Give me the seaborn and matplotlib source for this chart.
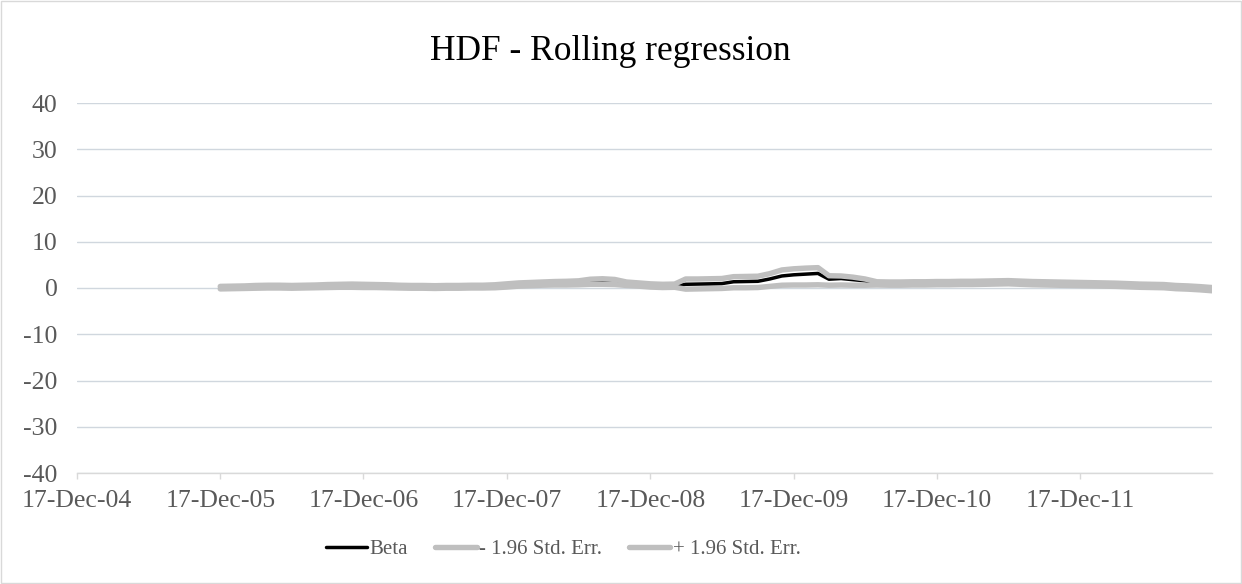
import numpy as np
import pandas as pd
import matplotlib
matplotlib.use("Agg")
import matplotlib.pyplot as plt
import matplotlib.dates as mdates
from matplotlib.patches import Rectangle
import seaborn as sns

# ---- data (monthly) ----
dates = pd.date_range(start="2005-12-17", periods=84, freq=pd.DateOffset(months=1))

beta = [0.10, 0.15, 0.20, 0.25, 0.30, 0.30, 0.25, 0.30, 0.35, 0.45, 0.50, 0.50,
        0.45, 0.40, 0.35, 0.30, 0.25, 0.25, 0.20, 0.25, 0.25, 0.30, 0.30, 0.35,
        0.55, 0.75, 0.85, 0.95, 1.00, 1.05, 1.10, 1.30, 1.35, 1.25, 0.90, 0.75,
        0.55, 0.45, 0.50, 0.80, 0.85, 0.90, 0.95, 1.35, 1.40, 1.45, 1.95, 2.60,
        2.85, 3.00, 3.15, 1.90, 2.05, 1.80, 1.55, 1.00, 0.95, 0.95, 1.00, 1.00,
        1.05, 1.05, 1.10, 1.10, 1.15, 1.20, 1.25, 1.15, 1.05, 1.00, 0.95, 0.90,
        0.85, 0.80, 0.75, 0.70, 0.60, 0.50, 0.45, 0.40, 0.20, 0.10, -0.05, -0.25]

lower = [-0.20, -0.15, -0.10, -0.05, 0.00, 0.00, -0.05, 0.00, 0.05, 0.10, 0.15, 0.15,
         0.10, 0.10, 0.05, 0.00, -0.05, -0.05, -0.10, -0.05, -0.05, 0.00, 0.00, 0.05,
         0.20, 0.40, 0.50, 0.60, 0.65, 0.65, 0.70, 0.80, 0.80, 0.75, 0.55, 0.40,
         0.20, 0.10, 0.15, -0.25, -0.20, -0.15, -0.10, 0.05, 0.05, 0.10, 0.35, 0.60,
         0.65, 0.65, 0.70, 0.60, 0.65, 0.60, 0.60, 0.65, 0.60, 0.60, 0.65, 0.65,
         0.70, 0.70, 0.75, 0.75, 0.80, 0.85, 0.90, 0.80, 0.70, 0.65, 0.60, 0.55,
         0.50, 0.45, 0.40, 0.35, 0.25, 0.15, 0.10, 0.05, -0.15, -0.25, -0.40, -0.60]

upper = [0.35, 0.40, 0.45, 0.55, 0.60, 0.60, 0.55, 0.60, 0.65, 0.75, 0.80, 0.85,
         0.80, 0.75, 0.70, 0.60, 0.55, 0.55, 0.50, 0.55, 0.55, 0.60, 0.60, 0.70,
         0.90, 1.10, 1.20, 1.30, 1.40, 1.45, 1.55, 1.90, 2.00, 1.85, 1.30, 1.10,
         0.90, 0.80, 0.85, 1.95, 1.95, 2.00, 2.05, 2.45, 2.50, 2.55, 3.10, 3.90,
         4.15, 4.30, 4.40, 2.65, 2.60, 2.35, 1.95, 1.35, 1.30, 1.30, 1.35, 1.35,
         1.40, 1.40, 1.45, 1.45, 1.50, 1.55, 1.60, 1.50, 1.40, 1.35, 1.30, 1.25,
         1.20, 1.15, 1.10, 1.05, 0.95, 0.85, 0.80, 0.75, 0.55, 0.45, 0.30, 0.10]

series_names = ["Beta", "- 1.96 Std. Err.", "+ 1.96 Std. Err."]
y_ticks = [-40, -30, -20, -10, 0, 10, 20, 30, 40]
x_tick_dates = pd.to_datetime(["2004-12-17", "2005-12-17", "2006-12-17", "2007-12-17",
                               "2008-12-17", "2009-12-17", "2010-12-17", "2011-12-17"])

df = pd.DataFrame({"date": dates, "beta": beta, "lower": lower, "upper": upper})

# ---- style ----
sns.set_theme(style="white")
plt.rcParams["font.family"] = ["Liberation Serif", "DejaVu Serif"]
plt.rcParams["axes.unicode_minus"] = False

fig = plt.figure(figsize=(12.42, 5.84), dpi=100)
ax = fig.add_axes([77 / 1242, 1 - 473 / 584, (1212 - 77) / 1242, (473 - 103) / 584])

grey = "#BFBFBF"
sns.lineplot(data=df, x="date", y="beta", ax=ax, color="black", linewidth=2.5,
             label=series_names[0], zorder=3)
sns.lineplot(data=df, x="date", y="lower", ax=ax, color=grey, linewidth=3.9,
             label=series_names[1], zorder=4, solid_capstyle="round")
sns.lineplot(data=df, x="date", y="upper", ax=ax, color=grey, linewidth=3.9,
             label=series_names[2], zorder=5, solid_capstyle="round")

ax.set_ylim(-40, 40)
ax.set_yticks(y_ticks)
ax.set_xlim(pd.Timestamp("2004-12-17"), pd.Timestamp("2012-11-17"))
ax.set_xticks(x_tick_dates)
ax.xaxis.set_major_formatter(mdates.DateFormatter("%d-%b-%y"))
ax.set_xlabel("")
ax.set_ylabel("")

ax.grid(axis="y", color="#D0D7DE", linewidth=1.0)
ax.grid(axis="x", visible=False)
for s in ["top", "right", "left"]:
    ax.spines[s].set_visible(False)
ax.spines["bottom"].set_color("#D9D9D9")
ax.spines["bottom"].set_linewidth(1.0)
ax.spines["bottom"].set_zorder(6)

ax.tick_params(axis="x", which="major", bottom=True, length=4, width=1,
               color="#D9D9D9", labelsize=18.5, labelcolor="#595959", pad=8)
ax.tick_params(axis="y", length=0, labelsize=18.5, labelcolor="#595959", pad=14)

ax.get_legend().remove()
handles, labels = ax.get_legend_handles_labels()
fig.legend(handles, labels, loc="center", bbox_to_anchor=(563 / 1242, 1 - 549 / 584),
           ncol=3, frameon=False, fontsize=15.0, handlelength=2.0,
           handletextpad=0.1, columnspacing=1.3, labelcolor="#595959")

fig.text(610 / 1242, 1 - 51 / 584, "HDF - Rolling regression", ha="center", va="center",
         fontsize=25.5, color="black")

fig.patches.append(Rectangle((0.0008, 0.0017), 0.9984, 0.9966, transform=fig.transFigure,
                             fill=False, edgecolor="#D9D9D9", linewidth=1.0))

fig.savefig("out.png", dpi=100)
